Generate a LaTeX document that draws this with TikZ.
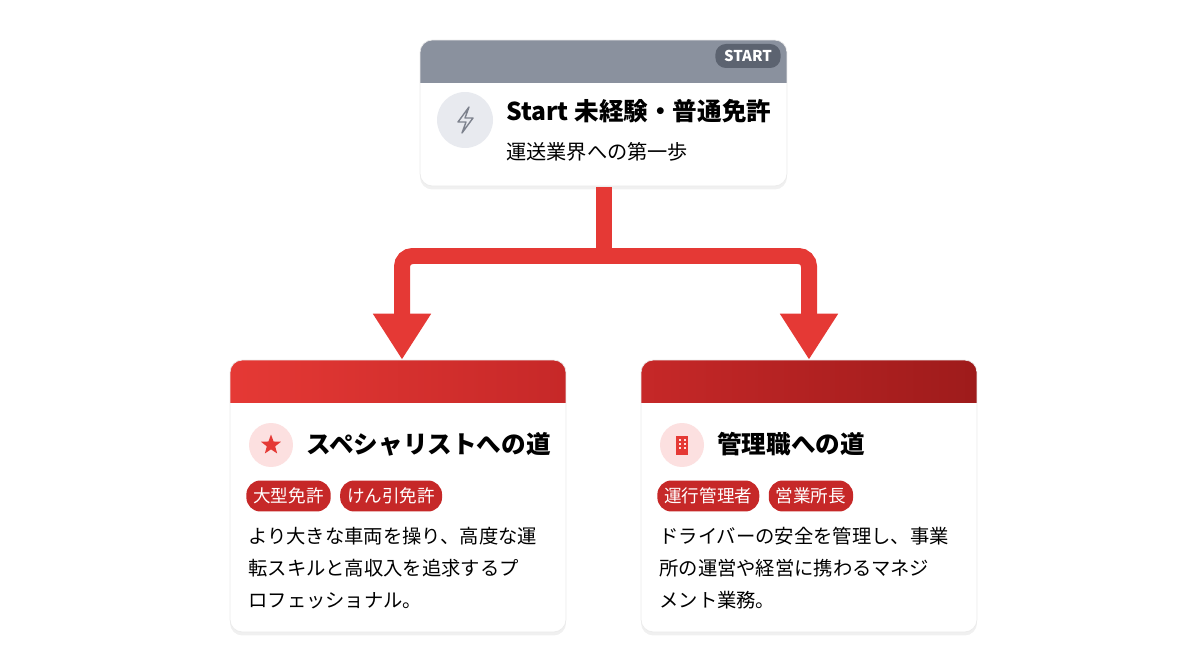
\documentclass[tikz,border=0pt]{standalone}
\usepackage{fontspec}
\setmainfont{Noto Sans CJK JP}
\usetikzlibrary{positioning,arrows.meta,shapes.geometric,shadows}
\definecolor{RoadRed}{HTML}{E53935}
\definecolor{RoadDark}{HTML}{C62828}
\definecolor{RoadDeep}{HTML}{9E1B1B}
\definecolor{StartGrey}{HTML}{8A919E}
\definecolor{PillGrey}{HTML}{5C6370}
\definecolor{IconBg}{HTML}{E8EAEF}
\definecolor{IconPink}{HTML}{FCE0E0}

\begin{document}
\begin{tikzpicture}[x=0.02cm,y=-0.02cm]
	\tikzset{
		card/.style={draw=black!8, fill=white, rounded corners=7pt,
			drop shadow={opacity=0.12, shadow xshift=0pt, shadow yshift=-2pt}},
		band/.style 2 args={path picture={
			\shade[left color=#1, right color=#2, sharp corners]
			(path picture bounding box.north west) rectangle
			([yshift=-0.84cm]path picture bounding box.north east);}},
		head/.style={font=\fontsize{14}{16}\selectfont\bfseries, anchor=west, inner sep=0pt},
		txt/.style={font=\fontsize{11}{18.2}\selectfont, anchor=north west, inner sep=0pt, align=left},
		tag/.style={fill=RoadDark, text=white, rounded corners=8pt, inner xsep=4pt,
			minimum height=0.62cm, font=\fontsize{10}{11}\selectfont, anchor=west},
		stem/.style={draw=RoadRed, line width=0.32cm, line cap=rect},
		flow/.style={draw=RoadRed, line width=0.32cm, rounded corners=6pt,
			-{Triangle[width=1.1cm,length=0.92cm]}},
		ico/.style={circle, minimum size=#1, inner sep=0pt}
	}
	\useasboundingbox (0,0) rectangle (1200,672);

	% cards
	\node[card, band={StartGrey}{StartGrey}, minimum width=7.34cm, minimum height=2.92cm] (start) at (603.5,113) {};
	\node[card, band={RoadRed}{RoadDark}, minimum width=6.72cm, minimum height=5.44cm] (spec) at (398,496) {};
	\node[card, band={RoadDark}{RoadDeep}, minimum width=6.72cm, minimum height=5.44cm] (mgmt) at (809,496) {};

	% connectors
	\coordinate (fork) at (603.5,256);
	\draw[flow] (fork) -| ([xshift=0.08cm]spec.north);
	\draw[flow] (fork) -| (mgmt.north);
	\draw[stem] ([yshift=-0.17cm]start.south) -- (fork);

	% start card
	\node[fill=PillGrey, text=white, rounded corners=6pt, inner xsep=5pt, minimum height=0.48cm,
		font=\fontsize{8.5}{10}\selectfont\bfseries] (pill) at (748,56) {START};
	\node[ico=1.12cm, fill=IconBg] (bolt) at (465,120) {};
	\draw[PillGrey!80, line width=0.8pt, line join=round]
		([shift={(4,-13)}]bolt.center) -- ++(-11,15) -- ++(8,0) -- ++(-4,11) -- ++(11,-15) -- ++(-8,0) -- cycle;
	\node[head] (startT) at (506,111) {Start 未経験・普通免許};
	\node[anchor=west, inner sep=0pt, font=\fontsize{11.5}{13}\selectfont] (startS) at (506,152) {運送業界への第一歩};

	% specialist card
	\node[ico=0.88cm, fill=IconPink] (star) at (271,445) {};
	\node[star, star points=5, star point ratio=2.4, fill=RoadRed, minimum size=0.42cm, inner sep=0pt] at (star.center) {};
	\node[head] (specT) at (306,444) {スペシャリストへの道};
	\node[tag] (t1) at (246,496) {大型免許};
	\node[tag, right=5pt of t1] (t2) {けん引免許};
	\node[txt] (specB) at (248,527) {より大きな車両を操り、高度な運\\転スキルと高収入を追求するプ\\ロフェッショナル。};

	% management card
	\node[ico=0.88cm, fill=IconPink] (bldg) at (682,445) {};
	\fill[RoadRed] ([shift={(-6,-9)}]bldg.center) rectangle ([shift={(6,10)}]bldg.center);
	\foreach \dx in {-3,2}
		\foreach \dy in {-6,-2,2}
			\fill[IconPink] ([shift={(\dx,\dy)}]bldg.center) rectangle ++(1.6,2);
	\node[head] (mgmtT) at (717,444) {管理職への道};
	\node[tag] (t3) at (657,496) {運行管理者};
	\node[tag, right=5pt of t3] (t4) {営業所長};
	\node[txt] (mgmtB) at (659,527) {ドライバーの安全を管理し、事業\\所の運営や経営に携わるマネジ\\メント業務。};
\end{tikzpicture}
\end{document}
